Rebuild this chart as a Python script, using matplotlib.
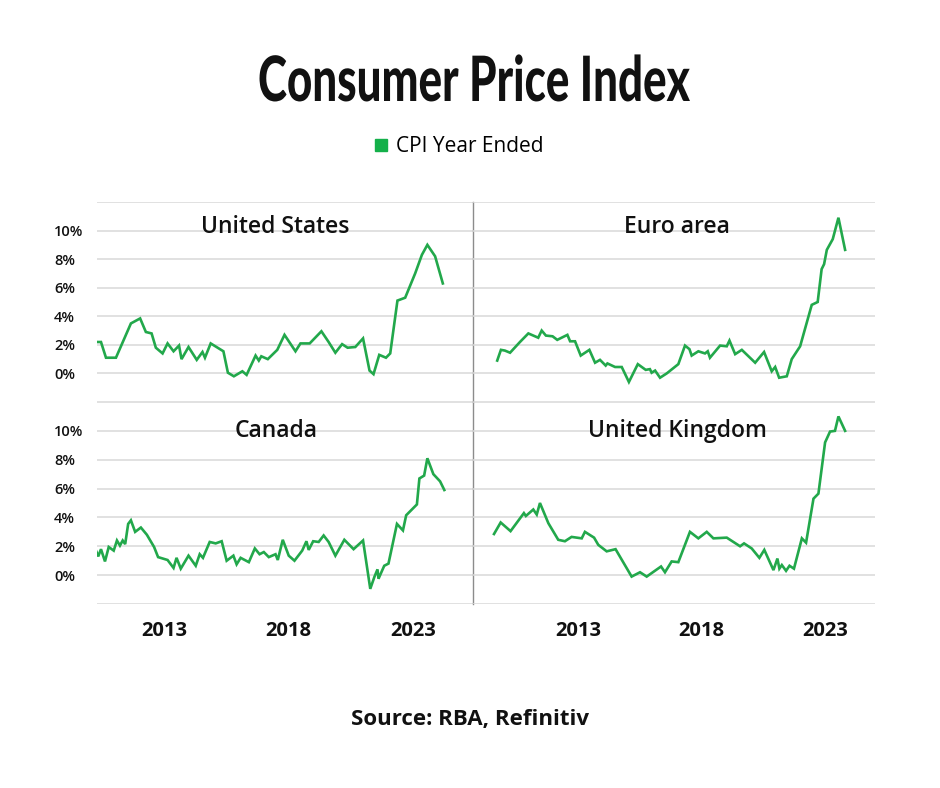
import matplotlib
matplotlib.use("Agg")
import matplotlib.pyplot as plt
from matplotlib.lines import Line2D
from matplotlib import patheffects
from matplotlib.transforms import Affine2D

# ---------------- data (x in chart-label years, y in % year-ended) ----------------
us_x = [2010.28, 2010.48, 2010.68, 2011.08, 2011.68, 2012.05, 2012.28, 2012.51, 2012.68, 2012.95,
        2013.15, 2013.39, 2013.61, 2013.71, 2013.99, 2014.32, 2014.55, 2014.65, 2014.88, 2015.39,
        2015.57, 2015.81, 2016.15, 2016.32, 2016.68, 2016.81, 2016.91, 2017.17, 2017.55, 2017.84,
        2018.28, 2018.48, 2018.85, 2019.32, 2019.61, 2019.88, 2020.15, 2020.37, 2020.68, 2020.99,
        2021.25, 2021.41, 2021.64, 2021.91, 2022.08, 2022.37, 2022.68, 2023.08, 2023.35, 2023.57,
        2023.88, 2024.19]
us_y = [2.2, 2.2, 1.1, 1.1, 3.5, 3.85, 2.9, 2.8, 1.8, 1.4,
        2.1, 1.55, 1.95, 1.0, 1.85, 0.95, 1.5, 1.1, 2.1, 1.55,
        0.05, -0.2, 0.15, -0.1, 1.25, 0.9, 1.2, 1.0, 1.65, 2.7,
        1.55, 2.1, 2.1, 2.95, 2.2, 1.45, 2.05, 1.8, 1.85, 2.45,
        0.2, -0.05, 1.3, 1.1, 1.4, 5.1, 5.3, 7.0, 8.3, 9.0,
        8.2, 6.3]

ca_x = [2010.28, 2010.37, 2010.48, 2010.64, 2010.79, 2010.99, 2011.12, 2011.24, 2011.35, 2011.45,
        2011.57, 2011.68, 2011.85, 2012.08, 2012.32, 2012.61, 2012.77, 2013.15, 2013.39, 2013.51,
        2013.68, 2013.99, 2014.28, 2014.44, 2014.57, 2014.84, 2015.08, 2015.32, 2015.52, 2015.79,
        2015.92, 2016.08, 2016.41, 2016.65, 2016.84, 2017.01, 2017.21, 2017.48, 2017.57, 2017.77,
        2018.01, 2018.24, 2018.55, 2018.72, 2018.81, 2018.99, 2019.21, 2019.41, 2019.61, 2019.88,
        2020.24, 2020.61, 2020.99, 2021.28, 2021.45, 2021.57, 2021.61, 2021.84, 2022.01, 2022.35,
        2022.59, 2022.72, 2023.15, 2023.25, 2023.44, 2023.57, 2023.81, 2024.08, 2024.25]
ca_y = [1.7, 1.3, 1.8, 0.95, 1.95, 1.7, 2.4, 2.05, 2.4, 2.15,
        3.55, 3.8, 3.0, 3.3, 2.8, 1.95, 1.25, 1.05, 0.5, 1.2,
        0.45, 1.35, 0.65, 1.45, 1.2, 2.3, 2.2, 2.35, 1.0, 1.35,
        0.75, 1.2, 0.9, 1.85, 1.45, 1.6, 1.25, 1.45, 1.05, 2.45,
        1.35, 1.0, 1.7, 2.35, 1.75, 2.35, 2.3, 2.75, 2.3, 1.35,
        2.45, 1.8, 2.4, -0.95, -0.1, 0.4, -0.25, 0.65, 0.8, 3.55,
        3.1, 4.15, 4.9, 6.7, 6.9, 8.1, 7.0, 6.5, 5.9]

eu_x = [2009.73, 2009.88, 2010.04, 2010.25, 2010.65, 2010.99, 2011.39, 2011.53, 2011.70, 2011.97,
        2012.16, 2012.57, 2012.68, 2012.88, 2013.11, 2013.46, 2013.69, 2013.89, 2014.12, 2014.19,
        2014.50, 2014.77, 2015.06, 2015.42, 2015.74, 2015.91, 2015.98, 2016.12, 2016.32, 2016.59,
        2017.06, 2017.33, 2017.51, 2017.60, 2017.87, 2018.14, 2018.25, 2018.34, 2018.75, 2019.02,
        2019.13, 2019.36, 2019.63, 2020.17, 2020.53, 2020.84, 2020.98, 2021.14, 2021.45, 2021.65,
        2021.99, 2022.46, 2022.70, 2022.86, 2022.96, 2023.07, 2023.31, 2023.54, 2023.81]
eu_y = [0.9, 1.65, 1.6, 1.45, 2.2, 2.8, 2.5, 3.0, 2.65, 2.6,
        2.35, 2.7, 2.25, 2.25, 1.25, 1.65, 0.75, 0.95, 0.55, 0.7,
        0.45, 0.45, -0.6, 0.65, 0.25, 0.3, 0.05, 0.2, -0.3, 0.0,
        0.65, 1.95, 1.7, 1.25, 1.55, 1.4, 1.55, 1.1, 1.95, 1.9,
        2.3, 1.35, 1.65, 0.75, 1.5, 0.15, 0.45, -0.3, -0.2, 1.0,
        1.9, 4.8, 5.0, 7.3, 7.65, 8.65, 9.4, 10.9, 8.65]

uk_x = [2009.60, 2009.87, 2010.27, 2010.81, 2010.89, 2011.19, 2011.33, 2011.46, 2011.80, 2012.20,
        2012.47, 2012.74, 2013.15, 2013.28, 2013.65, 2013.82, 2014.16, 2014.52, 2015.17, 2015.51,
        2015.78, 2016.36, 2016.52, 2016.79, 2017.06, 2017.53, 2017.87, 2018.21, 2018.48, 2019.02,
        2019.56, 2019.72, 2020.03, 2020.34, 2020.54, 2020.91, 2021.07, 2021.15, 2021.25, 2021.42,
        2021.56, 2021.74, 2022.06, 2022.23, 2022.53, 2022.73, 2023.00, 2023.20, 2023.40, 2023.54,
        2023.81]
uk_y = [2.85, 3.65, 3.05, 4.3, 4.1, 4.55, 4.2, 5.0, 3.6, 2.45,
        2.35, 2.65, 2.55, 3.0, 2.6, 2.1, 1.65, 1.8, -0.1, 0.2,
        -0.1, 0.6, 0.2, 0.95, 0.9, 3.0, 2.55, 3.0, 2.55, 2.6,
        2.0, 2.2, 1.85, 1.2, 1.75, 0.35, 1.15, 0.45, 0.7, 0.3,
        0.65, 0.45, 2.55, 2.25, 5.3, 5.65, 9.2, 9.95, 10.0, 11.0,
        10.0]

panel_titles = ["United States", "Euro area", "Canada", "United Kingdom"]
x_ticks = [2013, 2018, 2023]
x_tick_labels = ["2013", "2018", "2023"]
y_ticks = [-2, 0, 2, 4, 6, 8, 10, 12]
y_tick_labels = ["", "0%", "2%", "4%", "6%", "8%", "10%", ""]
legend_label = "CPI Year Ended"
title = "Consumer Price Index"
source = "Source: RBA, Refinitiv"

# ---------------- style ----------------
BODY = ["Open Sans", "DejaVu Sans"]
LINE_C = "#22a84b"
LEG_C = "#14b04a"
GRID_C = "#d9d9d9"

W, H = 940, 788
fig = plt.figure(figsize=(W / 100, H / 100), dpi=100)
fig.patch.set_facecolor("white")


class Condense(patheffects.AbstractPathEffect):
    """Squeeze glyph outlines horizontally around a given display x (condensed look)."""

    def __init__(self, sx, cx):
        super().__init__()
        self.sx = sx
        self.cx = cx

    def draw_path(self, renderer, gc, tpath, affine, rgbFace=None):
        a = affine + Affine2D().translate(-self.cx, 0).scale(self.sx, 1).translate(self.cx, 0)
        renderer.draw_path(gc, tpath, a, rgbFace)


L, M, R = 97 / W, 473 / W, 875 / W
T, MID, B = 1 - 202 / H, 1 - 402 / H, 1 - 604 / H

ax_us = fig.add_axes([L, MID, M - L, T - MID])
ax_eu = fig.add_axes([M, MID, R - M, T - MID])
ax_ca = fig.add_axes([L, B, M - L, MID - B])
ax_uk = fig.add_axes([M, B, R - M, MID - B])

left_xlim = (2010.32, 2025.4)
right_xlim = (2008.75, 2025.02)

series = [(ax_us, us_x, us_y, left_xlim, True, False),
          (ax_eu, eu_x, eu_y, right_xlim, False, False),
          (ax_ca, ca_x, ca_y, left_xlim, True, True),
          (ax_uk, uk_x, uk_y, right_xlim, False, True)]

for ax, xs, ys, xl, left_col, bottom_row in series:
    ax.set_facecolor("none")
    ax.plot(xs, ys, color=LINE_C, lw=1.9, solid_joinstyle="miter", zorder=3)
    ax.set_xlim(*xl)
    ax.set_ylim(-2, 12)
    ax.set_yticks(y_ticks)
    ax.grid(axis="y", color=GRID_C, lw=1.1, zorder=0)
    for s in ["top", "bottom", "left", "right"]:
        ax.spines[s].set_visible(False)
    ax.set_xticks(x_ticks)
    ax.tick_params(length=0)
    if bottom_row:
        ax.set_xticklabels(x_tick_labels, fontsize=14.5, fontweight="bold",
                           family=BODY, color="#111111")
        ax.tick_params(axis="x", pad=12)
    else:
        ax.set_xticklabels([])
    if left_col:
        ax.set_yticklabels(y_tick_labels, fontsize=10.5, fontweight="semibold",
                           family=BODY, color="#111111")
        ax.tick_params(axis="y", pad=31)
        for t in ax.get_yticklabels():
            t.set_horizontalalignment("left")
        ax.spines["right"].set_visible(True)
        ax.spines["right"].set_color("#8c8c8c")
        ax.spines["right"].set_linewidth(1.0)
    else:
        ax.set_yticklabels([])

# panel titles
for txt, (px, py) in zip(panel_titles, [(275, 227), (677, 227), (276, 431), (677, 431)]):
    fig.text(px / W, 1 - py / H, txt, ha="center", va="center", fontsize=16.5,
             fontweight="semibold", family=BODY, color="#111111")

# main title (heavy font, condensed horizontally through a path effect)
title_cx = 474
t = fig.text(title_cx / W, 1 - 101 / H, title, ha="center", va="baseline", fontsize=45,
             fontweight="black", family=["Lato", "DejaVu Sans"], color="#111111")
fig.canvas.draw()
tw = t.get_window_extent().width
t.set_path_effects([Condense(432.0 / tw, title_cx)])

# legend
handle = Line2D([], [], marker="s", ls="", color=LEG_C, markersize=9)
fig.legend(handles=[handle], labels=[legend_label], loc="center",
           bbox_to_anchor=(457 / W, 1 - 147 / H), frameon=False, handletextpad=0.25,
           handlelength=1.0, prop={"family": BODY, "size": 15})

# source
fig.text(470 / W, 1 - 720 / H, source, ha="center", va="center", fontsize=16,
         fontweight="bold", family=BODY, color="#111111")

fig.savefig("out.png", dpi=100, facecolor="white")
